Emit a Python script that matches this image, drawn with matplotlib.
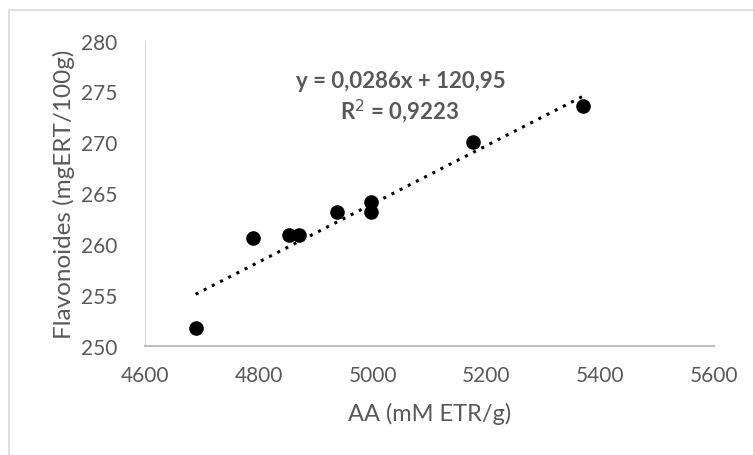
import numpy as np
import matplotlib.pyplot as plt
from matplotlib.patches import Rectangle

# Antioxidant activity vs. flavonoid content
aa = [4689, 4790, 4853, 4871, 4937, 4997, 4997, 5176, 5370]
flav = [251.7, 260.6, 260.9, 260.9, 263.1, 264.1, 263.1, 270.0, 273.6]

# Linear trendline coefficients
slope = 0.0286
intercept = 120.95
r2 = 0.9223

x_ticks = [4600, 4800, 5000, 5200, 5400, 5600]
y_ticks = [250, 255, 260, 265, 270, 275, 280]

plt.rcParams['font.family'] = ['Lato', 'DejaVu Sans']
gray = '#595959'

fig = plt.figure(figsize=(7.53, 4.56), dpi=100)
ax = fig.add_axes([0.1926, 0.2397, 0.7554, 0.669])

# chart area border (runs off the right and bottom edges)
fig.patches.append(Rectangle((9 / 753, -0.1), 1.2, 1 - 11 / 456 + 0.1,
                             transform=fig.transFigure, fill=False,
                             edgecolor='#d9d9d9', linewidth=1.2))

ax.scatter(aa, flav, s=90, color='black', zorder=3)

xs = np.array([min(aa), max(aa)])
ax.plot(xs, slope * xs + intercept, color='black', linestyle=(0, (1, 2.0)),
        linewidth=2.2, zorder=2)

ax.set_xlim(4600, 5600)
ax.set_ylim(250, 280)
ax.set_xticks(x_ticks)
ax.set_yticks(y_ticks)
ax.tick_params(length=0, labelsize=15, colors=gray)
ax.tick_params(axis='y', pad=20)
ax.tick_params(axis='x', pad=14)

for side in ['top', 'right']:
    ax.spines[side].set_visible(False)
ax.spines['left'].set_color('#d9d9d9')
ax.spines['bottom'].set_color('#bfbfbf')
ax.spines['bottom'].set_linewidth(1.5)

ax.set_xlabel('AA (mM ETR/g)', fontsize=17, color=gray, labelpad=12)
ax.set_ylabel('Flavonoides (mgERT/100g)', fontsize=17.5, color=gray, labelpad=4)

eq = 'y = {:.4f}x + {:.2f}'.format(slope, intercept).replace('.', ',')
r2_txt = 'R$^2$ = {:.4f}'.format(r2).replace('.', ',')
fig.text(401 / 753, 1 - 82 / 456, eq, ha='center', va='center',
         fontsize=16, fontweight='bold', color=gray)
fig.text(400 / 753, 1 - 111 / 456, r2_txt, ha='center', va='center',
         fontsize=16, fontweight='bold', color=gray)

fig.savefig('out.png', dpi=100)
